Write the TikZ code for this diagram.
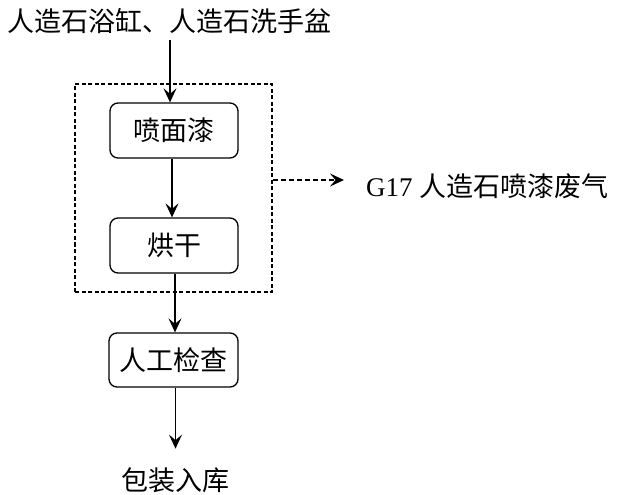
\documentclass[tikz,border=0pt]{standalone}
\usepackage{fontspec}
\setmainfont{Liberation Serif}
\newfontfamily\cjk{Noto Sans CJK SC}
\usetikzlibrary{arrows.meta}
\begin{document}
\begin{tikzpicture}[x=1pt,y=1pt,
  every node/.style={font=\fontsize{27}{31}\selectfont},
  txt/.style={inner sep=0pt},
  proc/.style={draw, line width=1.3pt, rounded corners=8pt, minimum width=128pt, minimum height=55pt, inner sep=0pt},
  flow/.style={line width=1.3pt, -{Stealth[length=14pt,width=13pt,inset=5.5pt]}},
  dflow/.style={line width=1.3pt, dash pattern=on 5pt off 3pt, -{Stealth[length=14pt,width=13pt,inset=5.5pt]}},
  grp/.style={draw, line width=1.1pt, dash pattern=on 4pt off 2.5pt, minimum width=197pt, minimum height=208pt, inner sep=0pt}
]
\useasboundingbox (0,0) rectangle (619,-495);
\node[txt] (top) at (170,-21.5) {\cjk 人造石浴缸、人造石洗手盆};
\node[grp] (dbox) at (173.5,-188) {};
\node[proc] (b1) at (174,-130.5) {\cjk 喷面漆};
\node[proc] (b2) at (174,-245.5) {\cjk 烘干};
\node[proc, minimum width=129pt, minimum height=54pt] (b3) at (173.5,-360) {\cjk 人工检查};
\node[txt] (out) at (175,-480) {\cjk 包装入库};
\node[txt, anchor=base west] (g) at (366,-196) {G17 {\cjk 人造石喷漆废气}};
\coordinate (gtip) at (344,-180);
\draw[flow] (top.south) ++(0,-6) -- (top.south |- b1.north);
\draw[flow] ([xshift=-2pt]b1.south) -- ([xshift=-2pt]b2.north);
\draw[flow] ([xshift=1pt]b2.south) -- ([xshift=1pt]b2.south |- b3.north);
\draw[flow] ([xshift=2pt]b3.south) -- ([xshift=2pt,yshift=-61pt]b3.south) coordinate (endtip);
\draw[dflow] (dbox.east |- gtip) -- (gtip);
\end{tikzpicture}
\end{document}
